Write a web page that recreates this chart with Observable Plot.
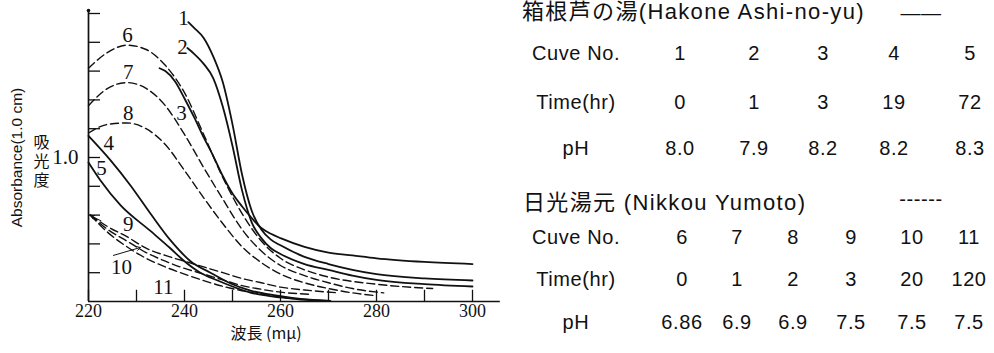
<!DOCTYPE html>
<html>
<head>
<meta charset="utf-8">
<script src="https://cdn.jsdelivr.net/npm/d3@7"></script>
<script src="https://cdn.jsdelivr.net/npm/@observablehq/plot@0.6"></script>
<style>
  html, body { margin: 0; padding: 0; background: #fff; }
  #wrap { position: relative; width: 994px; height: 353px; overflow: hidden; background: #fff; }
  #chart { position: absolute; left: 0; top: 0; }
  .t { position: absolute; transform: translate(-50%, -50%); white-space: nowrap; line-height: 1;
       font-family: "Liberation Sans", "Noto Sans CJK JP", sans-serif; font-size: 20px; color: #111; letter-spacing: 0.6px; }
  .l { transform: translate(0, -50%); font-size: 22px; letter-spacing: 1.35px; }
</style>
</head>
<body>
<div id="wrap"><div id="chart"></div></div>
<script>
// ---- curve data: wavelength (mμ) and absorbance ----
const curve1X = [240.8, 242, 244, 246, 248, 250, 252, 254, 256, 258, 260, 265, 270, 275, 280, 290, 300];
const curve1Y = [1.94, 1.90, 1.83, 1.70, 1.52, 1.23, 0.88, 0.63, 0.50, 0.43, 0.39, 0.31, 0.26, 0.22, 0.19, 0.16, 0.146];
const curve2X = [240.6, 242, 244, 246, 248, 250, 252, 254, 256, 258, 260, 265, 270, 275, 280, 290, 300];
const curve2Y = [1.76, 1.72, 1.65, 1.55, 1.35, 1.08, 0.77, 0.55, 0.44, 0.37, 0.33, 0.26, 0.22, 0.18, 0.15, 0.12, 0.104];
const curve3X = [234.8, 236, 238, 240, 242, 244, 246, 248, 250, 252, 254, 256, 258, 260, 265, 270, 275, 280, 290, 300];
const curve3Y = [1.62, 1.60, 1.53, 1.41, 1.28, 1.14, 1.01, 0.87, 0.75, 0.66, 0.58, 0.51, 0.47, 0.44, 0.38, 0.34, 0.32, 0.30, 0.275, 0.26];
const curve4X = [220, 224.6, 228.75, 232.9, 237.1, 241.25, 245.4, 249.6, 253.75, 259, 264.2, 270.4];
const curve4Y = [1.15, 0.98, 0.806, 0.611, 0.424, 0.28, 0.20, 0.125, 0.076, 0.042, 0.018, 0.005];
const curve5X = [220, 222.5, 226.7, 232.9, 237.1, 239.8, 243.3, 246.9, 253.75, 260, 264.2, 270];
const curve5Y = [0.965, 0.84, 0.667, 0.49, 0.368, 0.285, 0.20, 0.146, 0.062, 0.028, 0.014, 0.004];
const curve6X = [220, 224, 228, 232, 236, 240, 244, 248, 252, 256, 260, 265, 270, 280, 291.7];
const curve6Y = [1.62, 1.73, 1.78, 1.75, 1.64, 1.45, 1.16, 0.86, 0.61, 0.42, 0.30, 0.22, 0.17, 0.12, 0.09];
const curve7X = [220, 224, 228, 232, 236, 240, 244, 248, 252, 256, 260, 265, 270, 275, 281.5];
const curve7Y = [1.36, 1.48, 1.52, 1.48, 1.36, 1.16, 0.93, 0.71, 0.50, 0.35, 0.25, 0.18, 0.13, 0.09, 0.06];
const curve8X = [220, 224, 228, 232, 236, 240, 244, 248, 252, 256, 260, 265, 270, 275, 280];
const curve8Y = [1.17, 1.23, 1.24, 1.20, 1.09, 0.91, 0.72, 0.54, 0.38, 0.27, 0.19, 0.13, 0.09, 0.06, 0.04];
const curve9X = [220.4, 224, 228, 232, 236, 240, 244, 248, 252, 256, 260, 265, 272];
const curve9Y = [0.60, 0.52, 0.45, 0.37, 0.32, 0.28, 0.24, 0.20, 0.16, 0.13, 0.10, 0.08, 0.06];
const curve10X = [220.4, 224, 228, 232, 236, 240, 244, 248, 252, 256, 260, 266];
const curve10Y = [0.60, 0.50, 0.42, 0.34, 0.28, 0.23, 0.19, 0.15, 0.11, 0.085, 0.065, 0.05];
const curve11X = [220.4, 224, 228, 232, 236, 240, 244, 248, 252, 256, 260, 264];
const curve11Y = [0.60, 0.48, 0.38, 0.30, 0.24, 0.19, 0.145, 0.105, 0.075, 0.05, 0.03, 0.015];

// curve number labels (wavelength, absorbance)
const labelText = ["1", "2", "3", "4", "5", "6", "7", "8", "9", "10", "11"];
const labelX = [239.8, 239.6, 239.4, 224.2, 222.7, 228.1, 228.3, 228.3, 228.3, 226.9, 235.6];
const labelY = [1.965, 1.764, 1.306, 1.097, 0.924, 1.847, 1.59, 1.306, 0.535, 0.236, 0.097];

// axis ticks
const xTicks = [220, 230, 240, 250, 260, 270, 280, 290, 300];
const xTickLabels = [220, 240, 260, 280, 300];
const yTicks = [0.2, 0.4, 0.6, 0.8, 1.0, 1.2, 1.4, 1.6, 1.8, 2.0];
const yTickLabels = [1.0];

// legend table
const hakoneTitle = "箱根芦の湯(Hakone Ashi-no-yu)";
const hakoneCurve = ["1", "2", "3", "4", "5"];
const hakoneTime = ["0", "1", "3", "19", "72"];
const hakonePH = ["8.0", "7.9", "8.2", "8.2", "8.3"];
const nikkouTitle = "日光湯元 (Nikkou Yumoto)";
const nikkouCurve = ["6", "7", "8", "9", "10", "11"];
const nikkouTime = ["0", "1", "2", "3", "20", "120"];
const nikkouPH = ["6.86", "6.9", "6.9", "7.5", "7.5", "7.5"];
const rowNames = ["Cuve No.", "Time(hr)", "pH"];

// ---- build table for Plot ----
const curveXs = [curve1X, curve2X, curve3X, curve4X, curve5X, curve6X, curve7X, curve8X, curve9X, curve10X, curve11X];
const curveYs = [curve1Y, curve2Y, curve3Y, curve4Y, curve5Y, curve6Y, curve7Y, curve8Y, curve9Y, curve10Y, curve11Y];
const rows = [];
curveXs.forEach((xs, i) => xs.forEach((x, j) => rows.push({curve: i + 1, wl: x, abs: curveYs[i][j]})));
const solid = rows.filter(d => d.curve <= 5);
const dashed = rows.filter(d => d.curve > 5);
const labels = labelText.map((t, i) => ({t, x: labelX[i], y: labelY[i]}));

const serif = "'Liberation Serif', 'DejaVu Serif', serif";
const chart = Plot.plot({
  width: 510, height: 353,
  marginLeft: 88, marginRight: 38, marginTop: 13, marginBottom: 52,
  x: {domain: [220, 300]},
  y: {domain: [0, 2.0]},
  style: {fontFamily: serif, fontSize: "18px", color: "#111", background: "white"},
  marks: [
    Plot.axisX({ticks: xTickLabels, tickSize: 0, tickPadding: 3, label: null, fontSize: 18}),
    Plot.axisY({ticks: yTickLabels, tickSize: 0, tickPadding: 10, tickFormat: d => d.toFixed(1), label: null, fontSize: 21}),
    // inward ticks
    Plot.ruleX(xTicks, {x: d => d, y1: 0, y2: 0.078, stroke: "#111", strokeWidth: 1.3}),
    Plot.ruleY(yTicks, {y: d => d, x1: 220, x2: 222.5, stroke: "#111", strokeWidth: 1.3}),
    // axis lines
    Plot.ruleY([0], {x1: 220, x2: 305.8, stroke: "#111", strokeWidth: 1.7}),
    Plot.ruleX([220], {y1: 0, y2: 2.02, stroke: "#111", strokeWidth: 1.7}),
    Plot.dot([{x: 220, y: 2.02}], {x: "x", y: "y", r: 1.8, fill: "#111", stroke: null}),
    // curves
    Plot.line(solid, {x: "wl", y: "abs", z: "curve", curve: "monotone-x", stroke: "#111", strokeWidth: 1.8}),
    Plot.line(dashed, {x: "wl", y: "abs", z: "curve", curve: "monotone-x", stroke: "#111", strokeWidth: 1.4, strokeDasharray: "8,4"}),
    // arrows
    Plot.arrow([{x1: 225.2, y1: 0.32, x2: 230.8, y2: 0.375}], {x1: "x1", y1: "y1", x2: "x2", y2: "y2", stroke: "#111", strokeWidth: 1, headLength: 6}),
    Plot.arrow([{x1: 222.6, y1: 0.56, x2: 220.5, y2: 0.595}], {x1: "x1", y1: "y1", x2: "x2", y2: "y2", stroke: "#111", strokeWidth: 1, headLength: 6}),
    // curve labels
    Plot.text(labels, {x: "x", y: "y", text: "t", fontSize: 21, fontFamily: serif, fill: "#111"}),
    // axis titles
    Plot.text(["波長 (mμ)"], {x: 257, frameAnchor: "bottom", textAnchor: "middle", dy: 37, fontSize: 16, fontFamily: "'Noto Sans CJK JP', serif", fill: "#111"}),
    Plot.text(["吸光度"], {y: 1.0, frameAnchor: "left", textAnchor: "middle", dx: -47, fontSize: 16, fontFamily: "'Noto Sans CJK JP', serif", fill: "#111"}),
    Plot.text(["Absorbance(1.0 cm)"], {y: 1.0, frameAnchor: "left", textAnchor: "middle", dx: -71, rotate: -90, fontSize: 15.5, fontFamily: "'Liberation Sans', sans-serif", fill: "#111"})
  ]
});
// set the vertical (tategaki) writing mode for the Japanese axis title
d3.select(chart).selectAll("text")
  .filter(function() { return this.textContent === "吸光度"; })
  .attr("dy", null)
  .style("writing-mode", "vertical-rl")
  .style("text-orientation", "upright")
  .style("letter-spacing", "3px");
document.getElementById("chart").appendChild(chart);

// ---- legend table (HTML text) ----
const wrap = document.getElementById("wrap");
function put(text, x, y, cls) {
  const d = document.createElement("div");
  d.className = "t" + (cls ? " " + cls : "");
  d.style.left = x + "px"; d.style.top = y + "px";
  d.textContent = text;
  wrap.appendChild(d);
  return d;
}
const labelCol = 576;
const topCols = [680, 754, 823, 894, 970];
const botCols = [682, 737, 793, 851, 912, 969];
put(hakoneTitle, 522, 12, "l");
put("——", 921, 13);
[hakoneCurve, hakoneTime, hakonePH].forEach((arr, r) => {
  const y = [53, 102, 148][r];
  put(rowNames[r], labelCol, y);
  arr.forEach((v, i) => put(v, topCols[i], y));
});
put(nikkouTitle, 523, 203, "l");
put("------", 921, 199);
[nikkouCurve, nikkouTime, nikkouPH].forEach((arr, r) => {
  const y = [237, 279, 322][r];
  put(rowNames[r], labelCol, y);
  arr.forEach((v, i) => put(v, botCols[i], y));
});
</script>
</body>
</html>
